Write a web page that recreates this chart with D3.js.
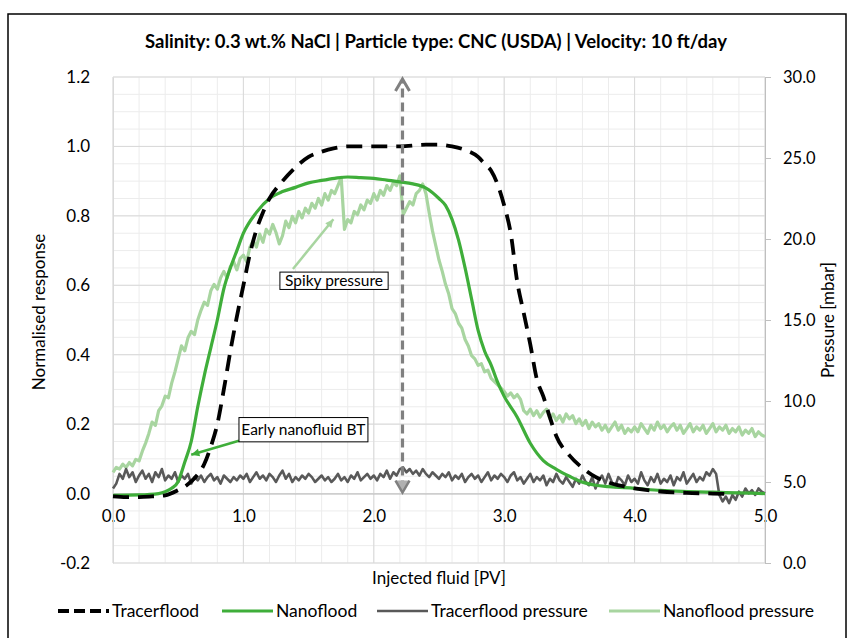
<!DOCTYPE html>
<html><head><meta charset="utf-8">
<script src="https://cdn.jsdelivr.net/npm/d3@7"></script>
<style>
body{margin:0;background:#fff;}
svg text{font-family:Lato,"Open Sans",sans-serif;fill:#000;}
</style></head>
<body><svg id="c" width="853" height="638"></svg>
<script>
const title = "Salinity: 0.3 wt.% NaCl | Particle type: CNC (USDA) | Velocity: 10 ft/day";
const xTicks = [0,1,2,3,4,5];
const yTicks = [-0.2,0,0.2,0.4,0.6,0.8,1.0,1.2];
const y2Ticks = [0,5,10,15,20,25,30];

const tracerPV = [0,0.1,0.2,0.3,0.4,0.5,0.55,0.6,0.65,0.7,0.75,0.8,0.85,0.9,0.95,1.0,1.05,1.1,1.15,1.2,1.3,1.4,1.5,1.6,1.7,1.8,2.0,2.2,2.4,2.5,2.6,2.7,2.8,2.85,2.9,2.95,3.0,3.05,3.1,3.15,3.2,3.25,3.3,3.35,3.4,3.5,3.6,3.7,3.8,3.9,4.0,4.2,4.4,4.6,4.75];
const tracerVal = [-0.008,-0.01,-0.01,-0.008,-0.005,0.01,0.02,0.035,0.055,0.085,0.135,0.2,0.3,0.41,0.51,0.6,0.69,0.76,0.81,0.85,0.9,0.94,0.97,0.985,0.995,1.0,1.0,1.0,1.005,1.005,1.0,0.99,0.97,0.95,0.93,0.89,0.83,0.75,0.61,0.52,0.43,0.33,0.28,0.22,0.165,0.11,0.074,0.048,0.032,0.022,0.015,0.006,0.002,0.0,-0.002];

const nanoPV = [0,0.2,0.35,0.4,0.45,0.5,0.55,0.6,0.65,0.7,0.75,0.8,0.85,0.9,0.95,1.0,1.1,1.2,1.3,1.4,1.5,1.6,1.7,1.8,1.9,2.0,2.1,2.2,2.3,2.4,2.5,2.55,2.6,2.65,2.7,2.75,2.8,2.85,2.9,2.95,3.0,3.1,3.2,3.3,3.4,3.5,3.6,3.7,3.8,4.0,4.2,4.4,4.6,4.8,5.0];
const nanoVal = [-0.005,-0.004,0.0,0.005,0.015,0.035,0.09,0.15,0.25,0.34,0.42,0.5,0.59,0.65,0.7,0.75,0.81,0.85,0.87,0.882,0.895,0.902,0.908,0.912,0.91,0.908,0.903,0.898,0.892,0.88,0.85,0.83,0.79,0.73,0.65,0.56,0.47,0.41,0.37,0.32,0.28,0.22,0.145,0.095,0.07,0.05,0.033,0.024,0.02,0.015,0.009,0.006,0.004,0.002,0.0];

// pressure series sampled every 0.025 PV from 0 to 5.0 [mbar]
const pressureStep = 0.025;
const tracerPressure = [
4.6,4.9,5.5,5.2,5.8,5.3,5.6,5.0,5.4,5.7,
5.2,5.5,5.0,5.6,5.3,5.8,5.1,5.4,5.2,5.6,
5.0,5.4,5.2,5.5,4.9,5.3,5.1,5.4,5.0,5.3,
5.5,5.1,5.3,4.9,5.4,5.2,5.0,5.3,5.1,5.4,
5.2,5.5,5.0,5.3,5.6,5.2,5.4,5.1,5.5,5.3,
5.0,5.4,5.7,5.2,5.5,5.0,5.3,5.1,5.4,5.2,
5.5,5.3,5.0,5.2,5.4,5.1,5.3,5.0,5.2,5.5,
5.1,5.3,5.0,5.4,5.2,5.6,5.1,5.3,5.5,5.2,
5.4,5.1,5.5,5.3,5.7,5.2,5.6,5.4,5.8,5.9,
5.6,5.8,5.5,5.7,5.4,5.8,5.5,5.3,5.6,5.4,
5.2,5.5,5.3,5.6,5.1,5.4,5.2,5.5,5.0,5.3,
5.5,5.2,5.4,5.0,5.3,5.6,5.1,5.4,5.2,5.5,
5.3,5.0,5.4,5.6,5.1,5.3,4.9,5.2,5.5,5.0,
5.3,5.1,5.4,4.8,5.2,5.0,5.5,5.1,4.9,5.3,
5.0,4.7,5.2,4.9,5.4,5.0,4.8,5.3,4.6,5.1,
5.4,4.9,5.5,5.0,4.7,5.3,5.1,4.8,5.4,5.0,
5.2,4.9,5.6,5.1,4.8,5.3,5.0,5.5,4.9,5.2,
5.0,5.4,4.8,5.3,5.1,5.6,4.9,5.2,5.5,5.0,
5.3,5.1,5.6,5.4,5.8,5.5,4.2,3.8,4.1,3.7,
4.2,3.9,4.4,4.1,4.6,4.3,4.5,4.2,4.6,4.4,
4.3];
const nanoPressure = [
5.6,5.9,5.8,6.1,5.9,6.2,6.0,6.4,6.3,6.9,
7.4,8.0,8.7,8.5,9.4,9.7,10.3,10.2,11.1,11.8,
12.6,13.4,13.1,13.9,14.3,14.1,15.0,15.6,16.1,15.9,
16.8,17.2,16.9,17.6,18.0,17.6,18.3,18.6,18.1,18.8,
19.0,18.6,19.5,19.9,19.5,20.3,19.8,20.6,20.3,20.9,
20.4,19.7,20.2,21.1,20.7,21.4,21.0,21.7,21.3,21.9,
21.6,22.2,21.9,22.5,22.1,22.8,22.4,23.0,22.8,23.3,
23.8,20.6,21.2,21.0,21.7,21.5,22.1,21.8,22.4,22.2,
22.8,22.4,23.0,22.7,23.3,23.0,23.5,23.3,23.9,21.5,
21.9,22.3,22.1,22.8,23.0,23.4,22.8,21.6,20.5,19.6,
18.7,18.0,17.2,16.6,15.7,15.4,14.8,14.5,13.8,13.4,
12.8,12.6,12.2,12.3,11.8,11.9,11.4,11.2,11.0,10.8,
10.6,10.3,10.5,10.2,10.4,10.1,9.4,9.2,9.5,9.1,
9.4,9.0,9.3,9.5,8.9,9.2,8.8,9.1,8.7,9.2,
8.9,9.1,8.6,8.9,8.5,8.8,8.3,8.7,8.4,8.6,
8.2,8.5,8.1,8.4,8.7,8.2,8.5,8.0,8.3,8.1,
8.4,8.1,8.6,8.3,8.0,8.5,8.2,8.7,8.3,8.5,
8.1,8.4,8.6,8.2,8.5,8.0,8.3,8.6,8.1,8.4,
8.2,8.5,8.0,8.3,8.6,8.1,8.4,8.2,8.5,8.0,
8.3,8.1,8.4,7.9,8.2,8.0,8.3,7.8,8.1,7.9,
7.8];

const arrowPV = 2.22;
const legendNames = ["Tracerflood","Nanoflood","Tracerflood pressure","Nanoflood pressure"];
const colors = {tracer:"#000000", nano:"#3fae3a", tp:"#595959", np:"#a8d5a0", grid:"#ececec", major:"#d9d9d9"};

const svg = d3.select("#c");
const L=113, R=765, T=77, B=563;
const x = d3.scaleLinear().domain([0,5]).range([L,R]);
const y = d3.scaleLinear().domain([-0.2,1.2]).range([B,T]);
const y2 = d3.scaleLinear().domain([0,30]).range([B,T]);
const fmt = d => d.toFixed(1);

// frame
svg.append("rect").attr("x",8).attr("y",14).attr("width",838).attr("height",640)
  .attr("fill","none").attr("stroke","#000").attr("stroke-width",1.5);

svg.append("text").attr("x",436).attr("y",48).attr("text-anchor","middle")
  .attr("font-size",18.5).attr("font-weight","bold").text(title);

// grids
const g = svg.append("g");
const minorX = d3.range(0,5.0001,0.2), minorY = d3.range(-0.2,1.2001,0.05);
g.selectAll(".mx").data(minorX).join("line").attr("x1",d=>x(d)).attr("x2",d=>x(d))
  .attr("y1",T).attr("y2",B).attr("stroke",colors.grid).attr("stroke-width",1);
g.selectAll(".my").data(minorY).join("line").attr("y1",d=>y(d)).attr("y2",d=>y(d))
  .attr("x1",L).attr("x2",R).attr("stroke",colors.grid).attr("stroke-width",1);
g.selectAll(".Mx").data(xTicks).join("line").attr("x1",d=>x(d)).attr("x2",d=>x(d))
  .attr("y1",T).attr("y2",B).attr("stroke",colors.major).attr("stroke-width",1);
g.selectAll(".My").data(yTicks).join("line").attr("y1",d=>y(d)).attr("y2",d=>y(d))
  .attr("x1",L).attr("x2",R).attr("stroke",colors.major).attr("stroke-width",1);

// axes
const xAxis = d3.axisBottom(x).tickValues(xTicks).tickFormat(fmt).tickSize(0).tickPadding(16);
const ax = svg.append("g").attr("transform",`translate(0,${y(0)})`).call(xAxis);
ax.select(".domain").attr("stroke","#bfbfbf");
ax.selectAll("text").attr("font-size",17).attr("font-family","Lato");

const yAxis = d3.axisLeft(y).tickValues(yTicks).tickFormat(fmt).tickSize(0).tickPadding(23);
const ay = svg.append("g").attr("transform",`translate(${L},0)`).call(yAxis);
ay.select(".domain").attr("stroke","#d9d9d9");
ay.selectAll("text").attr("font-size",17).attr("font-family","Lato");

const y2Axis = d3.axisRight(y2).tickValues(y2Ticks).tickFormat(fmt).tickSize(6).tickPadding(12);
const ay2 = svg.append("g").attr("transform",`translate(${R},0)`).call(y2Axis);
ay2.select(".domain").attr("stroke","#bfbfbf");
ay2.selectAll("line").attr("stroke","#bfbfbf");
ay2.selectAll("text").attr("font-size",16.5).attr("font-family","Lato");

// axis titles
svg.append("text").attr("x",(L+R)/2).attr("y",584).attr("text-anchor","middle").attr("font-size",17).text("Injected fluid [PV]");
svg.append("text").attr("transform",`translate(45,${(T+B)/2-8}) rotate(-90)`).attr("text-anchor","middle").attr("font-size",17).text("Normalised response");
svg.append("text").attr("transform",`translate(834,${(T+B)/2}) rotate(-90)`).attr("text-anchor","middle").attr("font-size",17).text("Pressure [mbar]");

// series
const pxIdx = i => i*pressureStep;
const lineP = d3.line().x((d,i)=>x(pxIdx(i))).y(d=>y2(d));
svg.append("path").datum(nanoPressure).attr("d",lineP).attr("fill","none")
  .attr("stroke",colors.np).attr("stroke-width",3.2).attr("stroke-linejoin","round");
svg.append("path").datum(tracerPressure).attr("d",lineP).attr("fill","none")
  .attr("stroke",colors.tp).attr("stroke-width",2.6).attr("stroke-linejoin","round");

const lineN = d3.line().x(d=>x(d[0])).y(d=>y(d[1])).curve(d3.curveMonotoneX);
svg.append("path").datum(nanoPV.map((p,i)=>[p,nanoVal[i]])).attr("d",lineN).attr("fill","none")
  .attr("stroke",colors.nano).attr("stroke-width",3.2);
svg.append("path").datum(tracerPV.map((p,i)=>[p,tracerVal[i]])).attr("d",lineN).attr("fill","none")
  .attr("stroke",colors.tracer).attr("stroke-width",3.8).attr("stroke-dasharray","16,9");

// dashed vertical arrow
const axp = x(arrowPV);
svg.append("line").attr("x1",axp).attr("x2",axp).attr("y1",y(0)-4).attr("y2",T+4)
  .attr("stroke","#808080").attr("stroke-width",3.2).attr("stroke-dasharray","9,5");
svg.append("path").attr("d",`M${axp-7},${T+14}L${axp},${T+2}L${axp+7},${T+14}`)
  .attr("fill","none").attr("stroke","#808080").attr("stroke-width",3);
svg.append("path").attr("d",`M${axp-7},${y(0)-13}L${axp},${y(0)-1}L${axp+7},${y(0)-13}`)
  .attr("fill","#b0b0b0").attr("stroke","#808080").attr("stroke-width",2.5);

// annotations
function arrowLine(x1,y1,x2,y2,col,w){
  svg.append("line").attr("x1",x1).attr("y1",y1).attr("x2",x2).attr("y2",y2).attr("stroke",col).attr("stroke-width",w);
  const a=Math.atan2(y2-y1,x2-x1), s=9;
  const p1=[x2-s*Math.cos(a-0.45), y2-s*Math.sin(a-0.45)], p2=[x2-s*Math.cos(a+0.45), y2-s*Math.sin(a+0.45)];
  svg.append("path").attr("d",`M${x2},${y2}L${p1[0]},${p1[1]}L${p2[0]},${p2[1]}Z`).attr("fill",col);
}
arrowLine(x(1.38),y(0.647),x(1.69),y(0.79),colors.np,2.5);
svg.append("rect").attr("x",x(1.28)).attr("y",y(0.638)).attr("width",x(2.11)-x(1.28)).attr("height",y(0.588)-y(0.638))
  .attr("fill","#fff").attr("stroke","#000").attr("stroke-width",1);
svg.append("text").attr("x",x(1.695)).attr("y",y(0.613)+5.5).attr("text-anchor","middle").attr("font-size",15.5).text("Spiky pressure");

arrowLine(x(0.966),y(0.152),x(0.6),y(0.112),colors.nano,2.5);
svg.append("rect").attr("x",x(0.966)).attr("y",y(0.219)).attr("width",x(1.955)-x(0.966)).attr("height",y(0.149)-y(0.219))
  .attr("fill","#fff").attr("stroke","#000").attr("stroke-width",1);
svg.append("text").attr("x",x(1.46)).attr("y",y(0.184)+5.5).attr("text-anchor","middle").attr("font-size",15.5).text("Early nanofluid BT");

// legend
const leg = [
  {n:legendNames[0], c:colors.tracer, w:3.8, d:"11,5", x1:58},
  {n:legendNames[1], c:colors.nano, w:3.2, d:null, x1:222},
  {n:legendNames[2], c:colors.tp, w:2.5, d:null, x1:377},
  {n:legendNames[3], c:colors.np, w:3, d:null, x1:609}
];
const ly = 611;
leg.forEach(o=>{
  const l = svg.append("line").attr("x1",o.x1).attr("x2",o.x1+51).attr("y1",ly).attr("y2",ly).attr("stroke",o.c).attr("stroke-width",o.w);
  if(o.d) l.attr("stroke-dasharray",o.d);
  svg.append("text").attr("x",o.x1+54).attr("y",ly+6).attr("font-size",17.5).text(o.n);
});
</script></body></html>
